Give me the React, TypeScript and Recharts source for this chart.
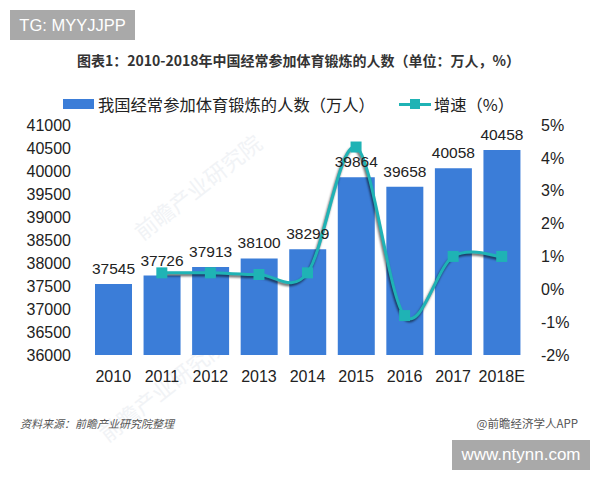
import React from "react";
import { ComposedChart, Bar, Line, XAxis, YAxis, LabelList, Legend } from "recharts";

const years = ["2010", "2011", "2012", "2013", "2014", "2015", "2016", "2017", "2018E"];
const people = [37545, 37726, 37913, 38100, 38299, 39864, 39658, 40058, 40458];
const growth = [null, 0.5, 0.5, 0.45, 0.5, 4.33, -0.8, 1.0, 1.0];
const leftTicks = [36000, 36500, 37000, 37500, 38000, 38500, 39000, 39500, 40000, 40500, 41000];
const rightTicks = [-2, -1, 0, 1, 2, 3, 4, 5];

const CJK = '"Noto Sans CJK SC", "Liberation Sans", sans-serif';
const LATIN = '"Liberation Sans", Arial, sans-serif';
const BLUE = "#3b7dd8";
const TEAL = "#1fb3b5";

const chartData = years.map((year, i) => ({ year, people: people[i], growth: growth[i] }));

// Excel style smoothed line (Catmull-Rom), the built-in curves overshoot or go flat
const excelCurve = (context: any) => {
    let pts: number[][] = [];
    return {
        areaStart() {},
        areaEnd() {},
        lineStart() {
            pts = [];
        },
        point(x: number, y: number) {
            pts.push([+x, +y]);
        },
        lineEnd() {
            pts.forEach((p, i) => {
                if (i === 0) {
                    context.moveTo(p[0], p[1]);
                    return;
                }
                const a = pts[i - 2] || pts[i - 1];
                const b = pts[i - 1];
                const c = pts[i + 1] || p;
                context.bezierCurveTo(
                    b[0] + (p[0] - a[0]) / 6,
                    b[1] + (p[1] - a[1]) / 6,
                    p[0] - (c[0] - b[0]) / 6,
                    p[1] - (c[1] - b[1]) / 6,
                    p[0],
                    p[1]
                );
            });
        },
    };
};

const box = (left: number, top: number, width: number, height: number, fontSize: number): React.CSSProperties => ({
    position: "absolute",
    left,
    top,
    width,
    height,
    background: "#a9a9a9",
    color: "#fff",
    fontFamily: LATIN,
    fontSize,
    lineHeight: height + "px",
    textAlign: "center",
});

const mark = (left: number, top: number): React.CSSProperties => ({
    position: "absolute",
    left,
    top,
    fontFamily: CJK,
    fontSize: 22,
    color: "#f1f3f6",
    transform: "rotate(-38deg)",
    whiteSpace: "nowrap",
});

const LegendRow = () => (
    <div style={{ position: "relative", height: 24, fontFamily: CJK, fontSize: 16.3, color: "#222" }}>
        <div style={{ position: "absolute", left: 63, top: 7, width: 31, height: 10, background: BLUE }} />
        <div style={{ position: "absolute", left: 98, top: 0, lineHeight: "24px", whiteSpace: "nowrap" }}>
            我国经常参加体育锻炼的人数（万人）
        </div>
        <div style={{ position: "absolute", left: 399, top: 11, width: 32, height: 3, background: TEAL }} />
        <div style={{ position: "absolute", left: 410, top: 7, width: 10, height: 10, background: TEAL }} />
        <div style={{ position: "absolute", left: 434, top: 0, lineHeight: "24px", whiteSpace: "nowrap" }}>
            增速（%）
        </div>
    </div>
);

const App = () => {
    return (
        <div style={{ position: "absolute", left: 0, top: 0, width: 600, height: 480, background: "#fff", overflow: "hidden" }}>
            <div style={mark(120, 170)}>前瞻产业研究院</div>
            <div style={mark(85, 372)}>前瞻产业研究院</div>
            <div style={{ position: "absolute", left: 0, top: 0 }}>
                <ComposedChart
                    width={600}
                    height={480}
                    data={chartData}
                    margin={{ top: 101, right: 0, bottom: 95, left: 0 }}
                >
                    <XAxis
                        dataKey="year"
                        axisLine={false}
                        tickLine={false}
                        interval={0}
                        tickMargin={10}
                        tick={{ fontFamily: LATIN, fontSize: 16, fill: "#222" }}
                    />
                    <YAxis
                        yAxisId="left"
                        width={89}
                        domain={[36000, 41000]}
                        ticks={leftTicks}
                        interval={0}
                        axisLine={false}
                        tickLine={false}
                        tickMargin={12}
                        tick={{ fontFamily: LATIN, fontSize: 16, fill: "#222" }}
                    />
                    <YAxis
                        yAxisId="right"
                        orientation="right"
                        width={74}
                        domain={[-2, 5]}
                        ticks={rightTicks}
                        interval={0}
                        axisLine={false}
                        tickLine={false}
                        tickMargin={9}
                        tickFormatter={(v: number) => v + "%"}
                        tick={{ fontFamily: LATIN, fontSize: 16, fill: "#222" }}
                    />
                    <Legend
                        verticalAlign="top"
                        content={() => <LegendRow />}
                        wrapperStyle={{ position: "absolute", left: 0, top: 92, width: 600 }}
                    />
                    <Bar yAxisId="left" dataKey="people" fill={BLUE} barSize={37} isAnimationActive={false}>
                        <LabelList
                            dataKey="people"
                            position="top"
                            offset={10}
                            style={{ fontFamily: LATIN, fontSize: 15.5, fill: "#222" }}
                        />
                    </Bar>
                    <Line
                        yAxisId="right"
                        dataKey="growth"
                        type={excelCurve as any}
                        stroke={TEAL}
                        strokeWidth={3}
                        connectNulls={false}
                        style={{ filter: "drop-shadow(-1px 2px 1px rgba(0,0,0,0.6))" }}
                        dot={(props: any) =>
                            props.value == null ? (
                                <g key={props.index} />
                            ) : (
                                <rect
                                    key={props.index}
                                    x={props.cx - 5.5}
                                    y={props.cy - 5.5}
                                    width={11}
                                    height={11}
                                    fill={TEAL}
                                />
                            )
                        }
                        isAnimationActive={false}
                    />
                </ComposedChart>
            </div>
            <div style={box(10, 10, 125, 30, 16.5)}>TG: MYYJJPP</div>
            <div style={{ position: "absolute", left: 77, top: 50, fontFamily: CJK, fontSize: 14, fontWeight: 700, color: "#333", whiteSpace: "nowrap" }}>
                图表1：2010-2018年中国经常参加体育锻炼的人数（单位：万人，%）
            </div>
            <div style={{ position: "absolute", left: 20, top: 415, fontFamily: CJK, fontSize: 11, fontStyle: "italic", color: "#555", whiteSpace: "nowrap" }}>
                资料来源：前瞻产业研究院整理
            </div>
            <div style={{ position: "absolute", right: 22, top: 415, fontFamily: CJK, fontSize: 11.5, color: "#555", whiteSpace: "nowrap" }}>
                @前瞻经济学人APP
            </div>
            <div style={box(452, 440, 138, 30, 17)}>www.ntynn.com</div>
        </div>
    );
};

export default App;
